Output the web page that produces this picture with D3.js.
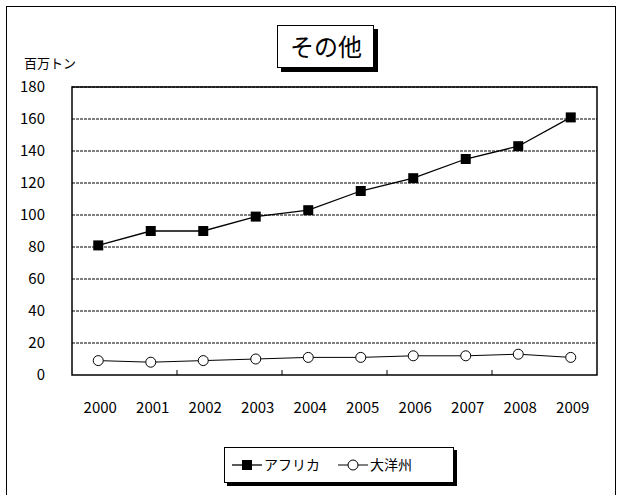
<!DOCTYPE html><html><head><meta charset="utf-8"><script src="https://d3js.org/d3.v7.min.js"></script>
<style>body{margin:0;background:#fff}text{font-family:"Noto Sans CJK JP",sans-serif;fill:#000}</style></head><body><svg id="c" width="621" height="495"></svg>
<script>
const years=["2000","2001","2002","2003","2004","2005","2006","2007","2008","2009"];
const africa=[81,90,90,99,103,115,123,135,143,161];
const oceania=[9,8,9,10,11,11,12,12,13,11];
const yTicks=[0,20,40,60,80,100,120,140,160,180];
const svg=d3.select("#c");
svg.append("rect").attr("x",6.5).attr("y",6.5).attr("width",609).attr("height",500).attr("fill","#fff").attr("stroke","#000");
const L=72,R=597,T=87,B=375;
const x=d3.scaleBand().domain(years).range([L,R]);
const y=d3.scaleLinear().domain([0,180]).range([B,T]);
const g=svg.append("g");
g.selectAll("line.g").data(yTicks.slice(1)).join("line").attr("x1",L).attr("x2",R).attr("y1",d=>y(d)).attr("y2",d=>y(d)).attr("stroke","#000").attr("stroke-dasharray","3,1");
g.append("rect").attr("x",L).attr("y",T).attr("width",R-L).attr("height",B-T).attr("fill","none").attr("stroke","#000").attr("stroke-width",1.5);
g.selectAll("line.t").data(years.filter((d,i)=>i%2==1&&i<9)).join("line").attr("x1",d=>x(d)+x.bandwidth()).attr("x2",d=>x(d)+x.bandwidth()).attr("y1",B).attr("y2",B-5).attr("stroke","#000");
g.selectAll("text.y").data(yTicks).join("text").attr("x",L-27).attr("y",d=>y(d)+5).attr("text-anchor","end").attr("font-size",15).text(d=>d);
g.selectAll("text.x").data(years).join("text").attr("x",d=>x(d)+x.bandwidth()/2+2).attr("y",413).attr("text-anchor","middle").attr("font-size",15).text(d=>d);
const cx=d=>x(d)+x.bandwidth()/2;
const line=d3.line().x((d,i)=>cx(years[i])).y(d=>y(d));
g.append("path").attr("d",line(africa)).attr("fill","none").attr("stroke","#000").attr("stroke-width",1.3);
g.append("path").attr("d",line(oceania)).attr("fill","none").attr("stroke","#000").attr("stroke-width",1);
g.selectAll("rect.a").data(africa).join("rect").attr("x",(d,i)=>cx(years[i])-5).attr("y",d=>y(d)-5).attr("width",10).attr("height",10).attr("fill","#000");
g.selectAll("circle.o").data(oceania).join("circle").attr("cx",(d,i)=>cx(years[i])).attr("cy",d=>y(d)).attr("r",5).attr("fill","#fff").attr("stroke","#000");
svg.append("text").attr("x",24).attr("y",68).attr("font-size",13).text("百万トン");
svg.append("rect").attr("x",281).attr("y",29).attr("width",97).attr("height",43).attr("fill","#000");
svg.append("rect").attr("x",277.5).attr("y",25.5).attr("width",96).attr("height",42).attr("fill","#fff").attr("stroke","#000");
svg.append("text").attr("x",326).attr("y",56).attr("text-anchor","middle").attr("font-size",24).text("その他");
svg.append("rect").attr("x",227).attr("y",450).attr("width",230).attr("height",36).attr("fill","#000");
svg.append("rect").attr("x",224.5).attr("y",447.5).attr("width",229).attr("height",35).attr("fill","#fff").attr("stroke","#000");
svg.append("line").attr("x1",232).attr("x2",262).attr("y1",465).attr("y2",465).attr("stroke","#000").attr("stroke-width",1.3);
svg.append("rect").attr("x",242).attr("y",460).attr("width",10).attr("height",10);
svg.append("text").attr("x",264).attr("y",470).attr("font-size",14).text("アフリカ");
svg.append("line").attr("x1",338).attr("x2",368).attr("y1",465).attr("y2",465).attr("stroke","#000");
svg.append("circle").attr("cx",353).attr("cy",465).attr("r",5).attr("fill","#fff").attr("stroke","#000");
svg.append("text").attr("x",370).attr("y",470).attr("font-size",14).text("大洋州");
</script></body></html>
